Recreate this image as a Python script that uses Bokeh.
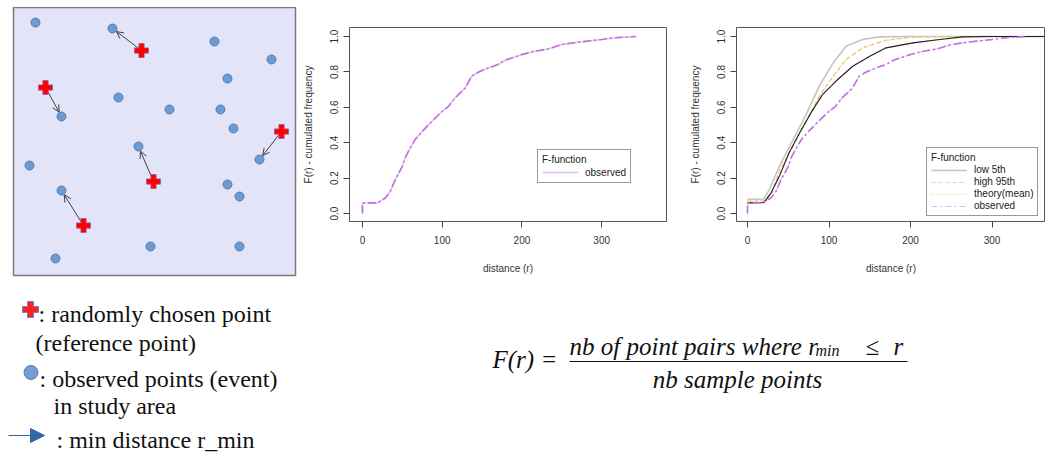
import numpy as np
from bokeh.plotting import figure
from bokeh.models import (Range1d, ColumnDataSource, Arrow, OpenHead, NormalHead, Spacer,
                          Label, Legend, LegendItem, FixedTicker, PrintfTickFormatter)
from bokeh.layouts import row, column
from bokeh.embed import file_html
from bokeh.resources import INLINE

# ---------------- data: study area (map units) ----------------
blue_x = [22, 99, 201, 258, 214, 105, 156, 207, 48, 220, 125, 246, 16, 214, 226, 48, 137, 226, 42]
blue_y = [253, 247, 234, 216, 197, 178, 166, 166, 159, 147, 129, 116, 110, 91, 79, 85, 29, 29, 17]
red_x = [128, 32, 268, 140, 70]
red_y = [225, 188, 144, 94, 50]

# ---------------- data: F-function curves ----------------
r_obs = [0, 0, 19, 29, 35, 41, 50, 54, 60, 66, 77, 87, 100, 108, 116, 129, 137, 145, 158,
         170, 179, 200, 216, 233, 250, 270, 300, 316, 343]
F_obs = [0, 0.06, 0.06, 0.089, 0.126, 0.19, 0.267, 0.32, 0.37, 0.418, 0.474, 0.52, 0.578,
         0.606, 0.653, 0.71, 0.776, 0.798, 0.823, 0.842, 0.866, 0.898, 0.917, 0.93, 0.955,
         0.968, 0.983, 0.993, 1.0]
r_mid = [0, 20, 29, 39, 51, 64, 78, 92, 109, 129, 150, 170, 203, 236, 264, 300, 370]
F_mid = [0.06, 0.062, 0.117, 0.21, 0.343, 0.456, 0.57, 0.672, 0.75, 0.832, 0.889, 0.936,
         0.964, 0.983, 0.998, 1.0, 1.0]
r_low = [0, 20, 27, 39, 56, 72, 88, 105, 121, 141, 162, 200, 370]
F_low = [0.08, 0.082, 0.136, 0.267, 0.418, 0.56, 0.72, 0.85, 0.945, 0.983, 0.998, 1.0, 1.0]
r_theo = [0, 22, 30, 39, 56, 72, 88, 105, 121, 141, 170, 203, 240, 370]
F_theo = [0.07, 0.072, 0.12, 0.24, 0.38, 0.52, 0.663, 0.776, 0.87, 0.936, 0.979, 0.996, 1.0, 1.0]

x_ticks = [0, 100, 200, 300]
y_ticks = [0.0, 0.2, 0.4, 0.6, 0.8, 1.0]

legend_title = "F-function"
labels_right = ["low 5th", "high 95th", "theory(mean)", "observed"]

VIOLET = "#c06ee0"
SANS = "Liberation Sans"
SERIF = "Liberation Serif"

TOP_H = 285
OFF = 7

# ---------------- map ----------------
pm = figure(width=292, height=TOP_H, output_backend="svg", toolbar_location=None,
            x_range=Range1d(0, 282), y_range=Range1d(0, 268), frame_align=False,
            min_border_left=6, min_border_right=4, min_border_top=0, min_border_bottom=17)
pm.axis.visible = False
pm.grid.visible = False
pm.background_fill_color = "#e4e4f8"
pm.border_fill_color = "white"
pm.outline_line_color = "#7a7a7a"
pm.outline_line_width = 1.5

bx = np.array(blue_x, float)
by = np.array(blue_y, float)
xs, ys, xe, ye = [], [], [], []
for rx, ry in zip(red_x, red_y):
    d = np.hypot(bx - rx, by - ry)
    i = int(d.argmin())
    ux, uy = (rx - bx[i]) / d[i], (ry - by[i]) / d[i]
    xs.append(rx); ys.append(ry)
    xe.append(bx[i] + ux * 5); ye.append(by[i] + uy * 5)
asrc = ColumnDataSource(dict(xs=xs, ys=ys, xe=xe, ye=ye))
pm.add_layout(Arrow(source=asrc, x_start="xs", y_start="ys", x_end="xe", y_end="ye",
                    line_color="#404040", line_width=1, level="underlay",
                    end=OpenHead(size=7, line_color="#404040", line_width=1)))
pm.scatter(blue_x, blue_y, marker="circle", size=9, fill_color="#6b9bd2",
           line_color="#4f7fb8", line_width=1)
pm.scatter(red_x, red_y, marker="plus", size=14, fill_color="#ff0000",
           line_color="#9060a0", line_width=0.8)


def style_chart(p):
    p.grid.visible = False
    p.outline_line_color = "#555555"
    p.outline_line_width = 1
    p.background_fill_color = "white"
    p.border_fill_color = "white"
    for ax in (p.xaxis[0], p.yaxis[0]):
        ax.axis_line_color = None
        ax.major_tick_line_color = "#444444"
        ax.major_tick_out = 6
        ax.major_tick_in = 0
        ax.minor_tick_line_color = None
        ax.major_label_text_font = SANS
        ax.major_label_text_font_size = "10px"
        ax.major_label_text_color = "#333333"
        ax.axis_label_text_font = SANS
        ax.axis_label_text_font_size = "10px"
        ax.axis_label_text_font_style = "normal"
        ax.axis_label_text_color = "#333333"
    p.xaxis.ticker = FixedTicker(ticks=x_ticks)
    p.yaxis.ticker = FixedTicker(ticks=y_ticks)
    p.yaxis.formatter = PrintfTickFormatter(format="%.1f")
    p.yaxis.major_label_orientation = "vertical"
    p.xaxis.axis_label = "distance (r)"
    p.yaxis.axis_label = "F(r) - cumulated frequency"
    p.xaxis.major_label_standoff = 8
    p.xaxis.axis_label_standoff = 16
    p.yaxis.major_label_standoff = 5
    p.yaxis.axis_label_standoff = 14


def make_legend(items, loc, label_h, spacing):
    lg = Legend(items=items, title=legend_title, location=loc, margin=0, padding=4,
                spacing=spacing, label_height=label_h, glyph_height=label_h, glyph_width=36,
                label_standoff=7, title_standoff=1, border_line_color="#333333",
                border_line_width=1, background_fill_color="white", background_fill_alpha=1,
                label_text_font=SANS, label_text_font_size="10px", label_text_color="#222222",
                title_text_font=SANS, title_text_font_size="10px",
                title_text_font_style="normal", title_text_color="#222222")
    return lg


# ---------------- middle chart ----------------
p2 = figure(width=384, height=TOP_H, output_backend="svg", toolbar_location=None,
            x_range=Range1d(-16.25, 381.25), y_range=Range1d(-0.045, 1.051), frame_align=False,
            min_border_left=49, min_border_right=17, min_border_top=20, min_border_bottom=71)
style_chart(p2)
lg2 = p2.line(r_obs, F_obs, line_color="#e2c2ec", line_width=1.5)
p2.line(r_obs, F_obs, line_color=VIOLET, line_width=1.6, line_dash="8 3 2 3")
p2.add_layout(make_legend([LegendItem(label="observed", renderers=[lg2])], (188, 38), 12, 0))

# ---------------- right chart ----------------
p3 = figure(width=362, height=TOP_H, output_backend="svg", toolbar_location=None,
            x_range=Range1d(-13.5, 365.6), y_range=Range1d(-0.045, 1.051), frame_align=False,
            min_border_left=53, min_border_right=0, min_border_top=20, min_border_bottom=71)
style_chart(p3)
# legend-styled lines drawn underneath the visible curves
leg_low = p3.line(r_low, F_low, line_color="#c4c4c4", line_width=1.6)
leg_hi = p3.line(r_mid, F_mid, line_color="#e0ccd8", line_width=1.2, line_dash="4 3")
leg_theo = p3.line(r_theo, F_theo, line_color="#eee0a0", line_width=1.2, line_dash="2 2")
leg_obs = p3.line(r_obs, F_obs, line_color="#e4bcec", line_width=1.2, line_dash="6 3 2 3")
p3.line(r_theo, F_theo, line_color="#eec060", line_width=1.1, line_dash="4 3")
p3.line(r_mid, F_mid, line_color="#222222", line_width=1.1)
p3.line(r_obs, F_obs, line_color=VIOLET, line_width=1.6, line_dash="8 3 2 3")
items = [LegendItem(label=lab, renderers=[rr])
         for lab, rr in zip(labels_right, [leg_low, leg_hi, leg_theo, leg_obs])]
p3.add_layout(make_legend(items, (190, 5), 10, 1))

# ---------------- bottom: explanation + formula ----------------
BOT_H = 160
pb = figure(width=1040, height=BOT_H, output_backend="svg", toolbar_location=None,
            x_range=Range1d(1, 1041), y_range=Range1d(1 + OFF + TOP_H + BOT_H, 1 + OFF + TOP_H),
            frame_align=False,
            min_border_left=0, min_border_right=0, min_border_top=0, min_border_bottom=0)
pb.axis.visible = False
pb.grid.visible = False
pb.outline_line_color = None
pb.background_fill_color = "white"
pb.border_fill_color = "white"

pb.scatter([31], [310], marker="plus", size=16, fill_color="#ff2020",
           line_color="#7080c0", line_width=1)
pb.scatter([31.5], [373], marker="circle", size=14, fill_color="#729fcf",
           line_color="#4f7fb8", line_width=1)
pb.add_layout(Arrow(x_start=9, y_start=436, x_end=45, y_end=436, line_color="#3465a4",
                    line_width=1.2,
                    end=NormalHead(size=14, fill_color="#3465a4", line_color="#3465a4")))

texts = [(": randomly chosen point", 39, 314), ("(reference point)", 36, 343),
         (": observed points (event)", 40, 379), ("in study area", 54, 406),
         (": min distance r_min", 57, 440)]
for t, x, y in texts:
    pb.add_layout(Label(x=x, y=y, text=t, text_font=SERIF, text_font_size="24px",
                        text_baseline="middle", text_color="#111111"))

def math_label(t, x, y, size="25px", align="left"):
    pb.add_layout(Label(x=x, y=y, text=t, text_font=SERIF, text_font_size=size,
                        text_font_style="italic", text_baseline="alphabetic",
                        text_align=align, text_color="#111111"))

math_label("F(r) =", 493, 360)
math_label("nb of point pairs where r", 570, 347)
math_label("min", 816, 351, size="16px")
math_label("≤", 866, 347)
math_label("r", 894, 347)
math_label("nb sample points", 738, 380, align="center")
pb.segment([570], [362], [908], [362], line_color="#111111", line_width=1)

layout = column(Spacer(height=OFF), row(Spacer(width=OFF), pm, p2, p3), pb)
open("out.html", "w").write(file_html(layout, INLINE))
